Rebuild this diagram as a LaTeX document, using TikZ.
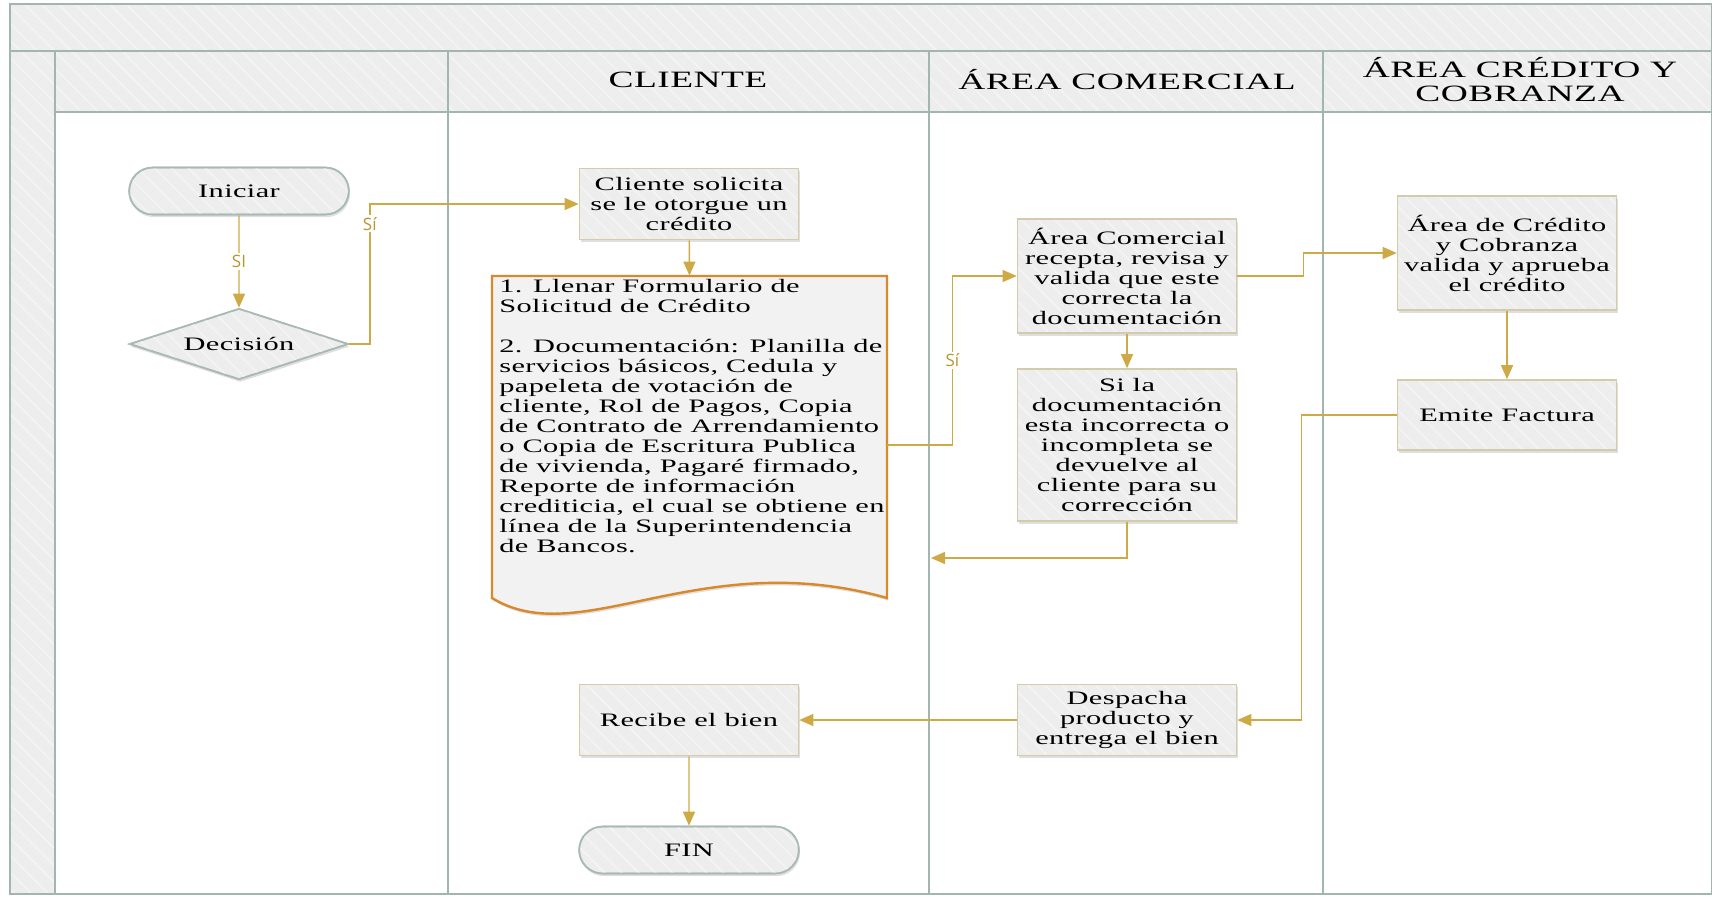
\documentclass[tikz,border=0pt]{standalone}
\usepackage{fontspec}
\setmainfont{Liberation Serif}[FakeStretch=1.6,LetterSpace=2]
\newfontfamily\labelfont{Open Sans}
\usetikzlibrary{arrows.meta,shapes.geometric,shapes.misc,shadows,patterns.meta}

\definecolor{bandgray}{HTML}{EDEDED}
\definecolor{laneline}{HTML}{A3B5AF}
\definecolor{boxline}{HTML}{D3CBAA}
\definecolor{termline}{HTML}{A9BAB4}
\definecolor{docline}{HTML}{D8892B}
\definecolor{docfill}{HTML}{F2F2F2}
\definecolor{flowgold}{HTML}{CDAA45}
\definecolor{labelgold}{HTML}{B8952E}

\tikzset{
  stripes/.style={postaction={pattern={Lines[angle=-45,distance=6pt,line width=1pt]},pattern color=white!35!bandgray}},
  band/.style={fill=bandgray, stripes},
  soft/.style={drop shadow={shadow xshift=0.6pt,shadow yshift=-1.3pt,opacity=0.25}},
  shape base/.style={fill=bandgray, soft, stripes, postaction={draw}, line width=0.8pt,
    font=\fontsize{9.5}{10}\selectfont},
  proc/.style={rectangle, draw=boxline, shape base, minimum width=109.5pt, align=center, inner sep=1pt},
  term/.style={rounded rectangle, draw=termline, shape base, minimum width=116.5pt, minimum height=23.5pt},
  decide/.style={diamond, aspect=3, draw=termline, shape base, minimum width=109.5pt, minimum height=35.5pt, inner sep=0pt},
  lanehead/.style={align=center, font=\fontsize{11.7}{12}\selectfont},
  flow/.style={draw=flowgold, line width=0.7pt, -{Triangle[length=7pt,width=6pt]}},
  lbl/.style={fill=white, inner sep=1pt, text=labelgold, font=\labelfont\fontsize{8.5}{9}\selectfont}
}

\begin{document}
\begin{tikzpicture}[x=0.5pt, y=-0.5pt]
    \useasboundingbox (0,0) rectangle (1712,896);

    % Draw the pool bands and the lane lines
    \fill[band] (10,4) rectangle (1712,51);
    \fill[band] (10,51) rectangle (55,894);
    \fill[band] (55,51) rectangle (1712,112);
    \draw[laneline, line width=0.8pt] (10,4) rectangle (1712,894);
    \draw[laneline, line width=0.8pt] (10,51) -- (1712,51);
    \draw[laneline, line width=0.8pt] (55,112) -- (1712,112);
    \foreach \xl in {55,448,929,1323}
        \draw[laneline, line width=0.8pt] (\xl,51) -- (\xl,894);

    % Lane titles
    \node[lanehead] (hcli) at (688,80) {CLIENTE};
    \node[lanehead] (hcom) at (1127,80) {ÁREA COMERCIAL};
    \node[lanehead] (hcre) at (1520,80) {ÁREA CRÉDITO Y\\COBRANZA};

    % Start and decision
    \node[term] (ini) at (239,191) {Iniciar};
    \node[decide] (dec) at (239,344) {Decisión};

    % Client lane
    \node[proc, minimum height=35.5pt] (sol) at (689,204) {Cliente solicita\\se le otorgue un\\crédito};
    \node[minimum width=197.5pt, minimum height=169pt, inner sep=0pt] (docu) at (689.5,445) {};
    \draw[docline, line width=1.2pt, fill=docfill, soft]
        (492,276) -- (887,276) -- (887,598)
        .. controls (700,545) and (580,652) .. (492,598) -- cycle;
    \node[anchor=north west, align=left, inner sep=0pt, font=\fontsize{9.5}{10}\selectfont] (doctext) at (499,279)
        {1. Llenar Formulario de\\Solicitud de Crédito\\[10pt]2. Documentación: Planilla de\\servicios básicos, Cedula y\\papeleta de votación de\\cliente, Rol de Pagos, Copia\\de Contrato de Arrendamiento\\o Copia de Escritura Publica\\de vivienda, Pagaré firmado,\\Reporte de información\\crediticia, el cual se obtiene en\\línea de la Superintendencia\\de Bancos.};
    \node[proc, minimum height=35.5pt] (rec) at (689,720) {Recibe el bien};
    \node[term] (fin) at (689,850) {FIN};

    % Commercial lane
    \node[proc, minimum height=57pt] (ac) at (1127,276) {Área Comercial\\recepta, revisa y\\valida que este\\correcta la\\documentación};
    \node[proc, minimum height=76pt] (sid) at (1127,445) {Si la\\documentación\\esta incorrecta o\\incompleta se\\devuelve al\\cliente para su\\corrección};
    \node[proc, minimum height=35.5pt] (desp) at (1127,720) {Despacha\\producto y\\entrega el bien};

    % Credit lane
    \node[proc, minimum height=57pt] (acc) at (1507,253) {Área de Crédito\\y Cobranza\\valida y aprueba\\el crédito};
    \node[proc, minimum height=35pt] (ef) at (1507,415) {Emite Factura};

    % Connectors
    \coordinate (ret) at (931,558);
    \draw[flow] (ini) -- node[lbl] {SI} (dec);
    \draw[flow] (dec.east) -- ++(10.25pt,0) |- node[lbl, pos=0.43] {Sí} (sol.west);
    \draw[flow] (sol) -- (docu.north);
    \draw[flow] (docu.east) -- ++(32.5pt,0) |- node[lbl, pos=0.25] {Sí} (ac.west);
    \draw[flow] (ac) -- (sid);
    \draw[flow] (sid.south) |- (ret);
    \draw[flow] (ac.east) -- ++(33pt,0) |- (acc.west);
    \draw[flow] (acc) -- (ef);
    \draw[flow] (ef.west) -- ++(-47.5pt,0) |- (desp.east);
    \draw[flow] (desp) -- (rec);
    \draw[flow] (rec) -- (fin);

\end{tikzpicture}
\end{document}
